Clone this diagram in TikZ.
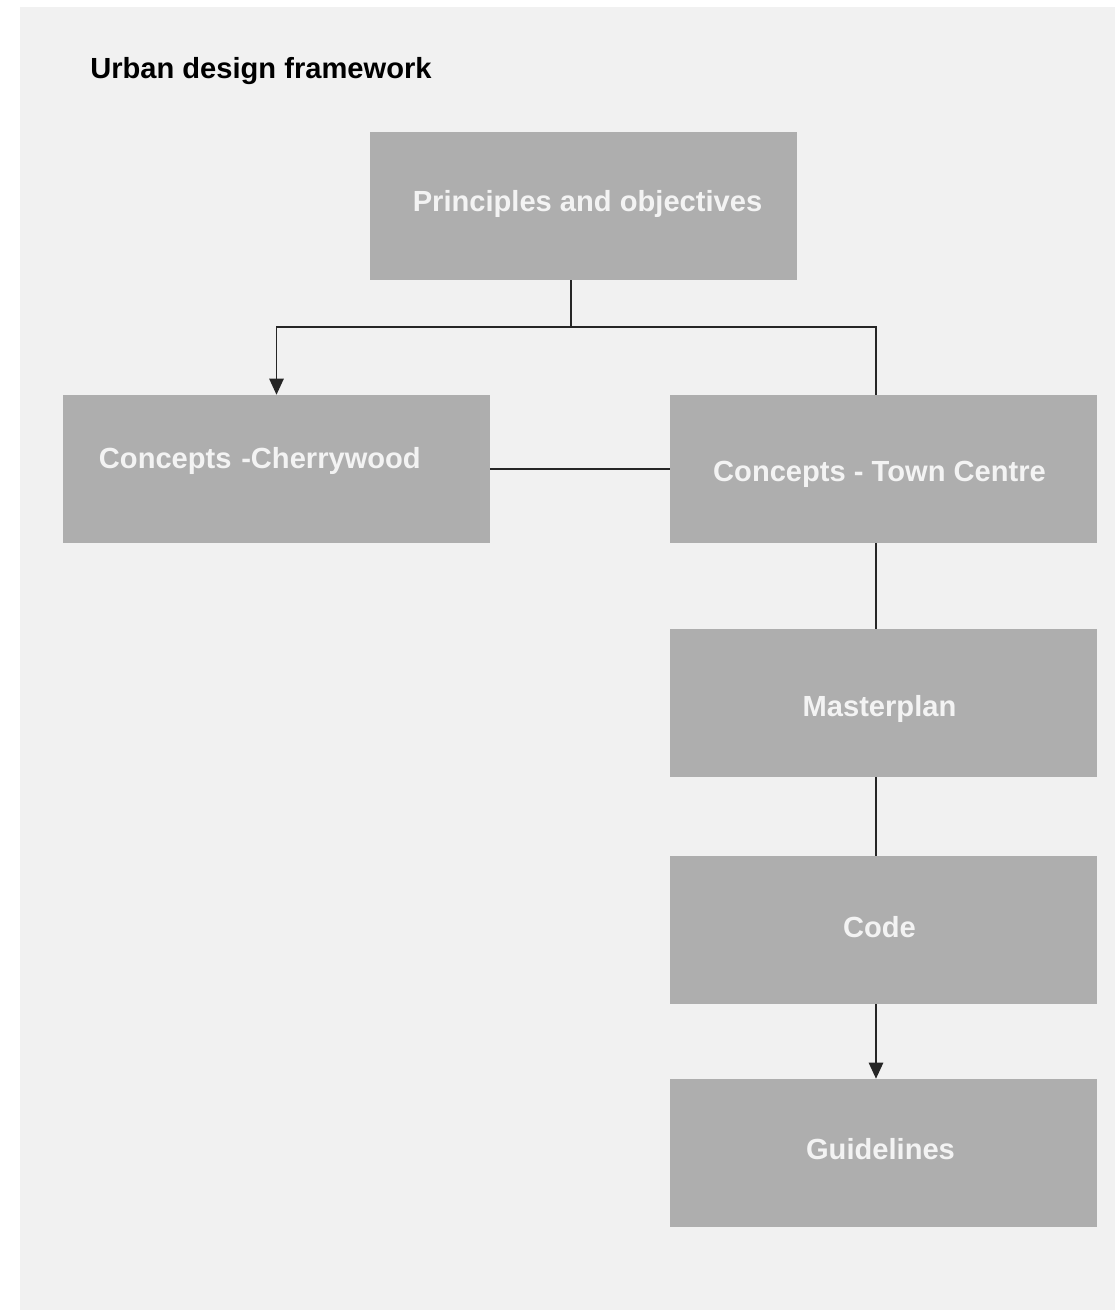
\documentclass[tikz,border=0pt]{standalone}
\usepackage{fontspec}
\setmainfont{Liberation Sans}
\usetikzlibrary{arrows.meta}
\definecolor{boxgray}{HTML}{AEAEAE}
\definecolor{pagegray}{HTML}{F1F1F1}
\definecolor{boxtext}{HTML}{F3F3F3}
\newlength\px
\setlength\px{0.025cm}
% shift a box label by (#1,#2) px, y pointing down
\newcommand{\nudge}[3]{\hspace*{\dimexpr2\px*(#1)\relax}\raisebox{0pt}[\dimexpr\height+\px*(20+#2)\relax][\dimexpr\depth+\px*(20-#2)\relax]{#3}}
\tikzstyle{box} = [fill=boxgray, minimum width=10.675cm, minimum height=3.7cm, inner sep=0pt, text=boxtext, font=\fontsize{20.7}{25}\selectfont\bfseries]
\tikzstyle{link} = [line width=1pt, black!85]
\tikzstyle{tip} = [-{Triangle[width=0.36cm,length=0.4cm]}]

\begin{document}
\begin{tikzpicture}[x=0.025cm,y=-0.025cm]
  \useasboundingbox (0,0) rectangle (1115,1310);
  \fill [pagegray] (20,7) rectangle (1115,1310);
  \node (title) at (90,71) [anchor=west, inner sep=0pt, font=\fontsize{20.7}{25}\selectfont\bfseries] {Urban design framework};
  \node (prin) at (583.5,206) [box] {\nudge{4}{-2}{Principles and objectives}};
  \node (cher) at (276.5,469) [box, text width=8.875cm, align=left] {\nudge{0}{-8}{Concepts -Cherrywood}};
  \node (town) at (883.5,469) [box] {\nudge{-4}{5}{Concepts - Town Centre}};
  \node (plan) at (883.5,703) [box] {\nudge{-4}{6}{Masterplan}};
  \node (code) at (883.5,930) [box] {\nudge{-4}{-3}{Code}};
  \node (guide) at (883.5,1153) [box] {\nudge{-3}{-4}{Guidelines}};
  \coordinate (split) at (571,327);
  \coordinate (spine) at (876,0);
  \draw [link] (prin.south -| split) -- (split);
  \draw [link, tip] (split) -| (cher.north);
  \draw [link] (split) -| (spine |- town.north);
  \draw [link] (cher.east) -- (town.west);
  \draw [link] (spine |- town.south) -- (spine |- plan.north);
  \draw [link] (spine |- plan.south) -- (spine |- code.north);
  \draw [link, tip] (spine |- code.south) -- (spine |- guide.north);
\end{tikzpicture}
\end{document}
